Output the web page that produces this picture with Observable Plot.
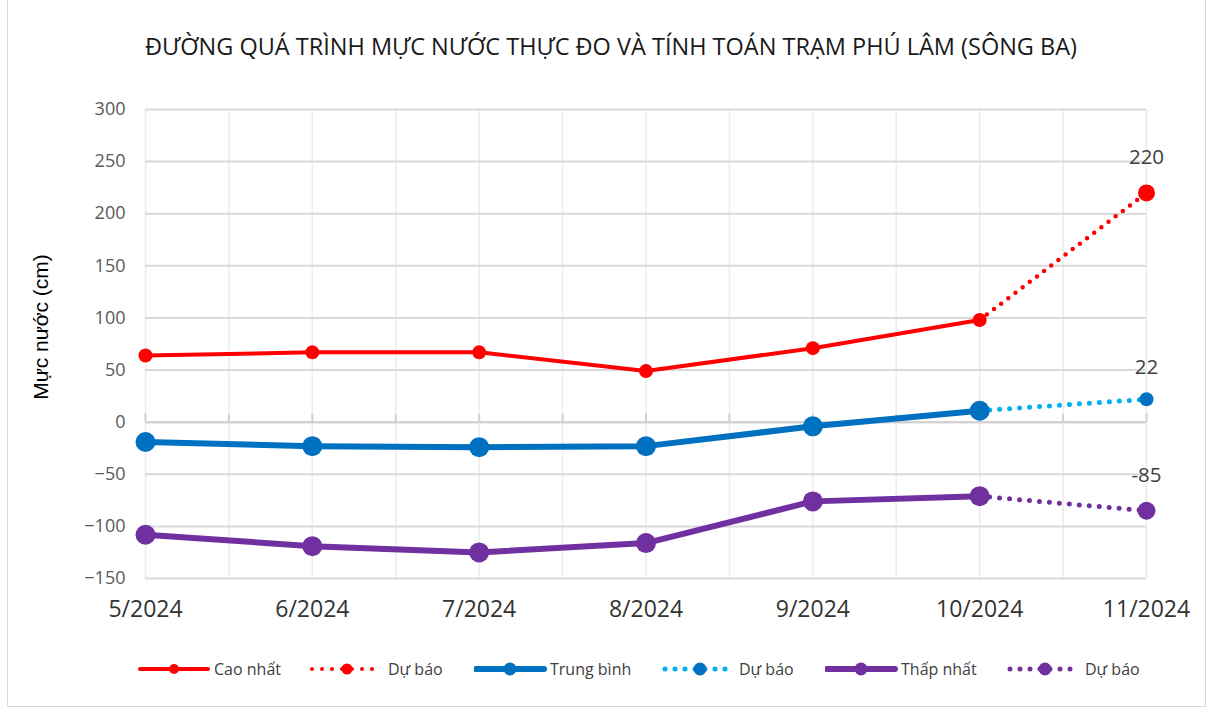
<!DOCTYPE html>
<html>
<head>
<meta charset="utf-8">
<script src="https://cdn.jsdelivr.net/npm/d3@7"></script>
<script src="https://cdn.jsdelivr.net/npm/@observablehq/plot@0.6"></script>
<style>
  html, body { margin: 0; padding: 0; background: #fff; }
  #frame { position: absolute; left: 7px; top: 0px; width: 1199px; height: 707px; border: 1px solid #d9d9d9; border-top: none; box-sizing: border-box; }
  #title { position: absolute; left: 0; width: 1222px; top: 30px; text-align: center; font-family: "Open Sans", sans-serif; font-size: 23.5px; color: #1a1a1a; white-space: nowrap; }
  #chart { position: absolute; left: 0; top: 80px; }
  #legend { position: absolute; top: 657px; left: 0; width: 1215px; height: 24px; font-family: "Open Sans", sans-serif; font-size: 16px; color: #404040; }
  #legend .sw { position: absolute; top: 2px; }
  #legend .lbl { position: absolute; top: 0; line-height: 24px; white-space: nowrap; }
</style>
</head>
<body>
<div id="frame"></div>
<div id="title">ĐƯỜNG QUÁ TRÌNH MỰC NƯỚC THỰC ĐO VÀ TÍNH TOÁN TRẠM PHÚ LÂM (SÔNG BA)</div>
<div id="chart"></div>
<div id="legend"></div>
<script>
// ---- Data ----
const months = ["5/2024", "6/2024", "7/2024", "8/2024", "9/2024", "10/2024", "11/2024"];
const caoNhat = [64, 67, 67, 49, 71, 98];            // observed max, 5/2024..10/2024
const trungBinh = [-19, -23, -24, -23, -4, 11];      // observed mean
const thapNhat = [-108, -119, -125, -116, -76, -71]; // observed min
const duBaoCaoNhat = 220;   // forecast 11/2024
const duBaoTrungBinh = 22;
const duBaoThapNhat = -85;
const yTicks = [-150, -100, -50, 0, 50, 100, 150, 200, 250, 300];

const colRed = "#ff0000", colBlue = "#0070c0", colLightBlue = "#00b0f0", colPurple = "#7030a0";

const obs = (arr) => arr.map((v, i) => ({i, v}));
const fc = (arr, f) => [{i: arr.length - 1, v: arr[arr.length - 1]}, {i: arr.length, v: f}];

const halfSteps = d3.range(0, months.length - 0.5, 0.5);
const last = months.length - 1;

const chart = Plot.plot({
  width: 1215,
  height: 560,
  marginLeft: 145,
  marginRight: 69,
  marginTop: 29,
  marginBottom: 62,
  style: {fontFamily: "'Open Sans', sans-serif", fontSize: "18px", color: "#595959", background: "transparent"},
  x: {domain: [0, last], axis: null},
  y: {domain: [-150, 300], axis: null},
  marks: [
    // vertical grid (major + minor)
    Plot.ruleX(halfSteps, {x: d => d, stroke: "#ececec", strokeWidth: 1.5}),
    // horizontal grid
    Plot.ruleY(yTicks, {y: d => d, stroke: "#d9d9d9", strokeWidth: 2}),
    // category axis line at 0 with tick marks
    Plot.ruleY([0], {stroke: "#d0d0d0", strokeWidth: 2}),
    Plot.ruleX(halfSteps, {x: d => d, y1: 0, y2: 7.5, stroke: "#d0d0d0", strokeWidth: 2}),
    // y axis labels
    Plot.axisY({ticks: yTicks, tickSize: 0, tickPadding: 20, fontSize: 18, fill: "#595959", label: null}),
    // x axis labels (at bottom)
    Plot.axisX({ticks: d3.range(months.length), tickFormat: i => months[i], tickSize: 0, tickPadding: 22, fontSize: 23, fill: "#333", label: null}),
    // y axis title
    Plot.text(["Mực nước (cm)"], {frameAnchor: "left", textAnchor: "middle", dx: -104, dy: -17, rotate: -90, fontSize: 21, fill: "#000", fontFamily: "'Liberation Sans', Arial, sans-serif"}),

    // forecast dotted lines
    Plot.line(fc(caoNhat, duBaoCaoNhat), {x: "i", y: "v", stroke: colRed, strokeWidth: 4.5, strokeDasharray: "0 9", strokeLinecap: "round"}),
    Plot.line(fc(trungBinh, duBaoTrungBinh), {x: "i", y: "v", stroke: colLightBlue, strokeWidth: 5, strokeDasharray: "0 10", strokeLinecap: "round"}),
    Plot.line(fc(thapNhat, duBaoThapNhat), {x: "i", y: "v", stroke: colPurple, strokeWidth: 5, strokeDasharray: "0 10", strokeLinecap: "round"}),

    // observed lines
    Plot.line(obs(caoNhat), {x: "i", y: "v", stroke: colRed, strokeWidth: 4}),
    Plot.line(obs(trungBinh), {x: "i", y: "v", stroke: colBlue, strokeWidth: 6}),
    Plot.line(obs(thapNhat), {x: "i", y: "v", stroke: colPurple, strokeWidth: 6}),

    // observed markers
    Plot.dot(obs(caoNhat), {x: "i", y: "v", r: 7, fill: colRed}),
    Plot.dot(obs(trungBinh), {x: "i", y: "v", r: 10, fill: colBlue}),
    Plot.dot(obs(thapNhat), {x: "i", y: "v", r: 10, fill: colPurple}),

    // forecast end markers
    Plot.dot([{i: last, v: duBaoCaoNhat}], {x: "i", y: "v", r: 8.5, fill: colRed}),
    Plot.dot([{i: last, v: duBaoTrungBinh}], {x: "i", y: "v", r: 7, fill: colBlue}),
    Plot.dot([{i: last, v: duBaoThapNhat}], {x: "i", y: "v", r: 9, fill: colPurple}),

    // forecast labels
    Plot.text([{i: last, v: duBaoCaoNhat}], {x: "i", y: "v", text: d => String(d.v), dy: -35, fontSize: 20.5, fill: "#404040"}),
    Plot.text([{i: last, v: duBaoTrungBinh}], {x: "i", y: "v", text: d => String(d.v), dy: -32, fontSize: 20.5, fill: "#404040"}),
    Plot.text([{i: last, v: duBaoThapNhat}], {x: "i", y: "v", text: d => String(d.v), dy: -35, fontSize: 20.5, fill: "#404040"})
  ]
});
document.getElementById("chart").appendChild(chart);

// ---- Legend ----
const legendItems = [
  {label: "Cao nhất", color: colRed, markerColor: colRed, dotted: false, w: 4, r: 5, x: 138, tx: 214},
  {label: "Dự báo", color: colRed, markerColor: colRed, dotted: true, w: 4, r: 5.5, x: 307, tx: 388},
  {label: "Trung bình", color: colBlue, markerColor: colBlue, dotted: false, w: 6, r: 6.5, x: 474, tx: 550},
  {label: "Dự báo", color: colLightBlue, markerColor: colBlue, dotted: true, w: 5, r: 6.5, x: 660, tx: 739},
  {label: "Thấp nhất", color: colPurple, markerColor: colPurple, dotted: false, w: 6, r: 6.5, x: 825, tx: 901},
  {label: "Dự báo", color: colPurple, markerColor: colPurple, dotted: true, w: 5, r: 6.5, x: 1005, tx: 1085}
];
const legend = document.getElementById("legend");
const ns = "http://www.w3.org/2000/svg";
for (const it of legendItems) {
  const svg = document.createElementNS(ns, "svg");
  svg.setAttribute("class", "sw");
  svg.setAttribute("width", 74); svg.setAttribute("height", 20);
  svg.style.left = it.x + "px";
  const line = document.createElementNS(ns, "line");
  line.setAttribute("x1", it.dotted ? 5 : 2); line.setAttribute("x2", it.dotted ? 66 : 70);
  line.setAttribute("y1", 10); line.setAttribute("y2", 10);
  line.setAttribute("stroke", it.color); line.setAttribute("stroke-width", it.w);
  line.setAttribute("stroke-linecap", "round");
  if (it.dotted) line.setAttribute("stroke-dasharray", "0 10");
  svg.appendChild(line);
  const c = document.createElementNS(ns, "circle");
  c.setAttribute("cx", it.dotted ? 40 : 36); c.setAttribute("cy", 10); c.setAttribute("r", it.r);
  c.setAttribute("fill", it.markerColor);
  svg.appendChild(c);
  legend.appendChild(svg);
  const span = document.createElement("span");
  span.className = "lbl";
  span.textContent = it.label;
  span.style.left = it.tx + "px";
  legend.appendChild(span);
}
</script>
</body>
</html>
